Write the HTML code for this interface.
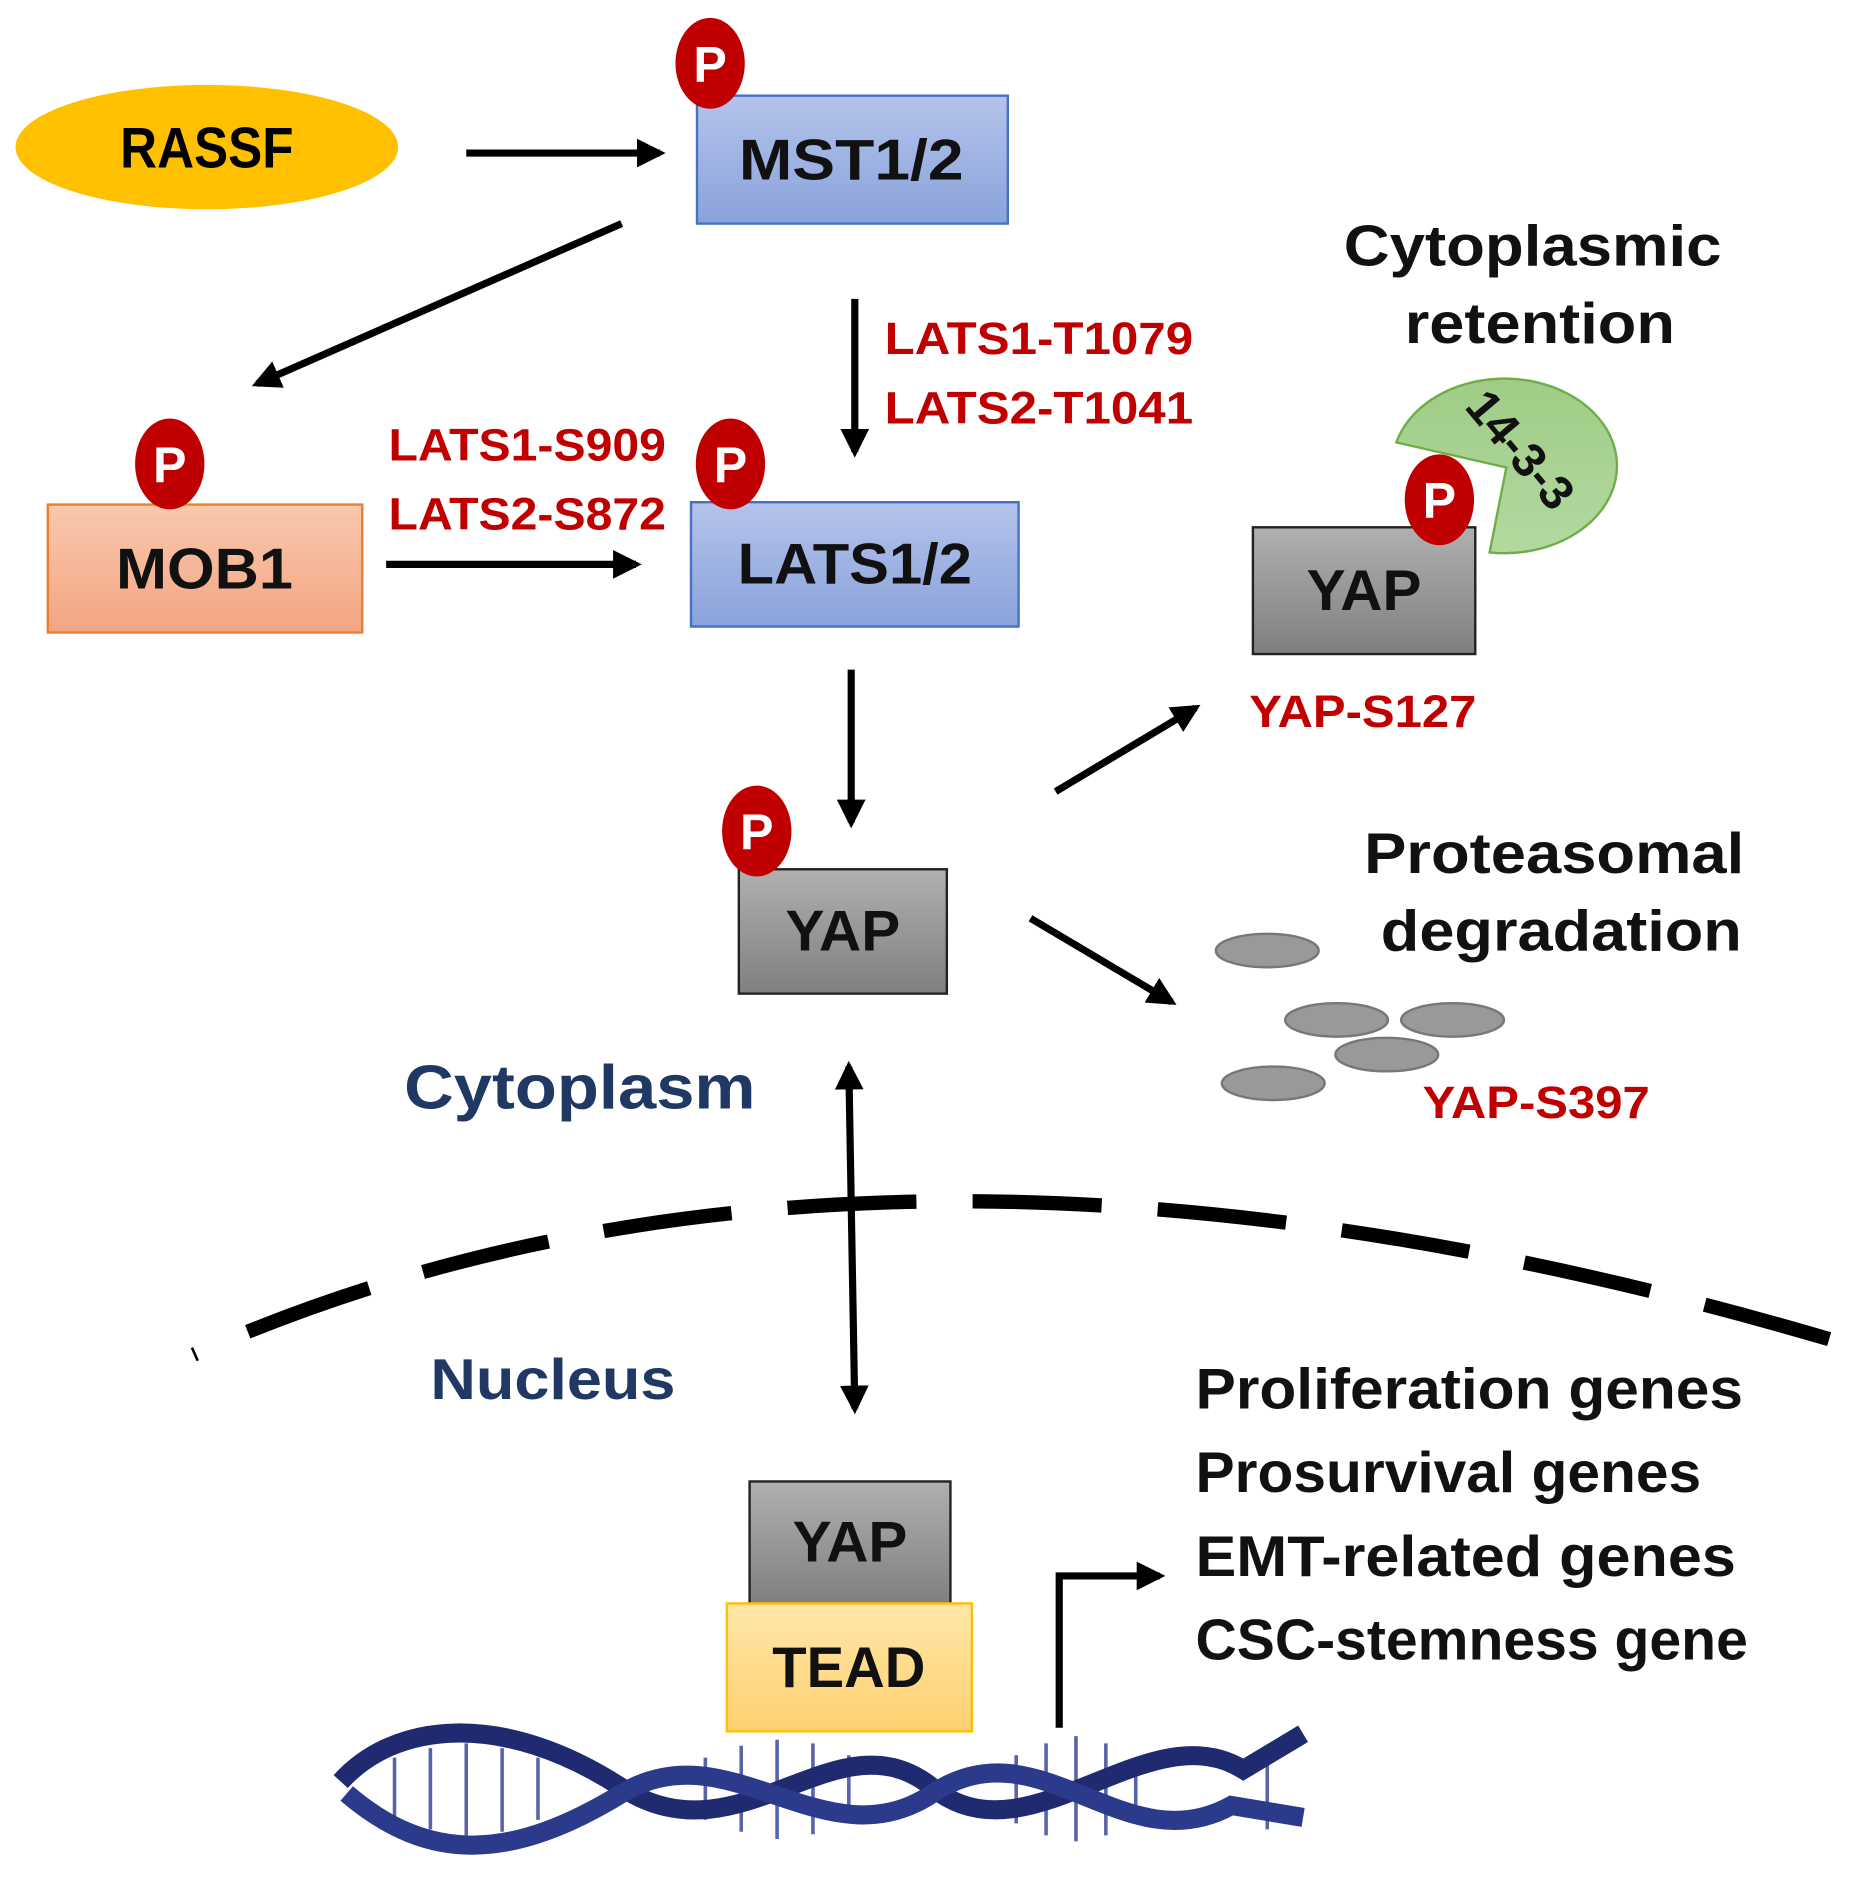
<!DOCTYPE html>
<html><head><meta charset="utf-8"><style>html,body{margin:0;padding:0;background:#fff}svg{display:block}</style></head>
<body>
<svg width="1865" height="1888" viewBox="0 0 1560 1579" preserveAspectRatio="none" xmlns="http://www.w3.org/2000/svg" font-family="Liberation Sans, sans-serif" font-weight="bold">
<defs>
<linearGradient id="bl" x1="0" y1="0" x2="0" y2="1"><stop offset="0" stop-color="#b4c3ea"/><stop offset="1" stop-color="#8aa3dc"/></linearGradient>
<linearGradient id="gr" x1="0" y1="0" x2="0" y2="1"><stop offset="0" stop-color="#b0b0b0"/><stop offset="1" stop-color="#7f7f7f"/></linearGradient>
<linearGradient id="sa" x1="0" y1="0" x2="0" y2="1"><stop offset="0" stop-color="#f9c8ad"/><stop offset="1" stop-color="#f3a583"/></linearGradient>
<linearGradient id="ye" x1="0" y1="0" x2="0" y2="1"><stop offset="0" stop-color="#ffe7a8"/><stop offset="1" stop-color="#ffd070"/></linearGradient>
<linearGradient id="gn" x1="0" y1="0" x2="0" y2="1"><stop offset="0" stop-color="#9fcc86"/><stop offset="1" stop-color="#b3d9a0"/></linearGradient>
<marker id="ah" viewBox="0 0 10 10" refX="8" refY="5" markerWidth="4" markerHeight="4" orient="auto-start-reverse"><path d="M0,0 L10,5 L0,10 z" fill="#000"/></marker>
</defs>
<g stroke="#000" stroke-width="6" marker-end="url(#ah)">
<line x1="390" y1="128" x2="552" y2="128"/>
<line x1="520" y1="187" x2="215" y2="321"/>
<line x1="715" y1="250" x2="715" y2="378"/>
<line x1="323" y1="472" x2="532" y2="472"/>
<line x1="712" y1="560" x2="712" y2="688"/>
<line x1="883" y1="662" x2="1000" y2="592"/>
<line x1="862" y1="768" x2="980" y2="838"/>
<line x1="710" y1="892" x2="715" y2="1178" marker-start="url(#ah)"/>
<polyline points="886,1445 886,1318 970,1318" fill="none"/>
</g>
<path d="M1530,1120 Q724,883 162,1133" fill="none" stroke="#000" stroke-width="12" stroke-dasharray="108,47"/>
<ellipse cx="173" cy="123" rx="160" ry="52" fill="#FFC000"/>
<text x="173" y="140" font-size="48" text-anchor="middle" textLength="145" lengthAdjust="spacingAndGlyphs">RASSF</text>
<rect x="583" y="80" width="260" height="107" fill="url(#bl)" stroke="#4472C4" stroke-width="2"/>
<text x="712" y="150" font-size="48" text-anchor="middle" textLength="188" lengthAdjust="spacingAndGlyphs" fill="#111">MST1/2</text>
<rect x="40" y="422" width="263" height="107" fill="url(#sa)" stroke="#ED7D31" stroke-width="2"/>
<text x="171" y="492" font-size="48" text-anchor="middle" textLength="148" lengthAdjust="spacingAndGlyphs" fill="#111">MOB1</text>
<rect x="578" y="420" width="274" height="104" fill="url(#bl)" stroke="#4472C4" stroke-width="2"/>
<text x="715" y="488" font-size="48" text-anchor="middle" textLength="196" lengthAdjust="spacingAndGlyphs" fill="#111">LATS1/2</text>
<rect x="618" y="727" width="174" height="104" fill="url(#gr)" stroke="#222" stroke-width="2"/>
<text x="705" y="795" font-size="48" text-anchor="middle" textLength="96" lengthAdjust="spacingAndGlyphs" fill="#111">YAP</text>
<path d="M1260,391 L1168,370 A94,73 0 1 1 1246,462 Z" fill="url(#gn)" stroke="#70AD47" stroke-width="2"/>
<text x="1272" y="390" font-size="40" text-anchor="middle" transform="rotate(50 1272 376)" fill="#111">14-3-3</text>
<rect x="1048" y="441" width="186" height="106" fill="url(#gr)" stroke="#222" stroke-width="2"/>
<text x="1141" y="510" font-size="48" text-anchor="middle" textLength="96" lengthAdjust="spacingAndGlyphs" fill="#111">YAP</text>
<rect x="627" y="1239" width="168" height="103" fill="url(#gr)" stroke="#222" stroke-width="2"/>
<text x="711" y="1306" font-size="48" text-anchor="middle" textLength="96" lengthAdjust="spacingAndGlyphs" fill="#111">YAP</text>
<rect x="608" y="1341" width="205" height="107" fill="url(#ye)" stroke="#FFC000" stroke-width="2"/>
<text x="710" y="1411" font-size="48" text-anchor="middle" textLength="128" lengthAdjust="spacingAndGlyphs" fill="#111">TEAD</text>
<g fill="#C00000">
<ellipse cx="594" cy="53" rx="29" ry="38"/><ellipse cx="142" cy="388" rx="29" ry="38"/>
<ellipse cx="611" cy="388" rx="29" ry="38"/><ellipse cx="633" cy="695" rx="29" ry="38"/>
<ellipse cx="1204" cy="418" rx="29" ry="38"/>
</g>
<g fill="#fff" font-size="42" text-anchor="middle">
<text x="594" y="68">P</text><text x="142" y="403">P</text><text x="611" y="403">P</text><text x="633" y="710">P</text><text x="1204" y="433">P</text>
</g>
<g fill="#C00000" font-size="38">
<text x="740" y="296" textLength="258" lengthAdjust="spacingAndGlyphs">LATS1-T1079</text>
<text x="740" y="354" textLength="258" lengthAdjust="spacingAndGlyphs">LATS2-T1041</text>
<text x="325" y="385" textLength="232" lengthAdjust="spacingAndGlyphs">LATS1-S909</text>
<text x="325" y="443" textLength="232" lengthAdjust="spacingAndGlyphs">LATS2-S872</text>
<text x="1045" y="608" textLength="190" lengthAdjust="spacingAndGlyphs">YAP-S127</text>
<text x="1190" y="935" textLength="190" lengthAdjust="spacingAndGlyphs">YAP-S397</text>
</g>
<g fill="#111" font-size="48" text-anchor="middle">
<text x="1282" y="222" textLength="316" lengthAdjust="spacingAndGlyphs">Cytoplasmic</text>
<text x="1288" y="287" textLength="226" lengthAdjust="spacingAndGlyphs">retention</text>
<text x="1300" y="730" textLength="318" lengthAdjust="spacingAndGlyphs">Proteasomal</text>
<text x="1306" y="795" textLength="302" lengthAdjust="spacingAndGlyphs">degradation</text>
</g>
<g fill="#999" stroke="#777" stroke-width="2">
<ellipse cx="1060" cy="795" rx="43" ry="14"/><ellipse cx="1118" cy="853" rx="43" ry="14"/>
<ellipse cx="1215" cy="853" rx="43" ry="14"/><ellipse cx="1160" cy="882" rx="43" ry="14"/>
<ellipse cx="1065" cy="906" rx="43" ry="14"/>
</g>
<text x="338" y="927" font-size="52" fill="#1F3864" textLength="294" lengthAdjust="spacingAndGlyphs">Cytoplasm</text>
<text x="360" y="1170" font-size="48" fill="#1F3864" textLength="205" lengthAdjust="spacingAndGlyphs">Nucleus</text>
<g fill="#111" font-size="48">
<text x="1000" y="1178" textLength="458" lengthAdjust="spacingAndGlyphs">Proliferation genes</text>
<text x="1000" y="1248" textLength="423" lengthAdjust="spacingAndGlyphs">Prosurvival genes</text>
<text x="1000" y="1318" textLength="452" lengthAdjust="spacingAndGlyphs">EMT-related genes</text>
<text x="1000" y="1388" textLength="462" lengthAdjust="spacingAndGlyphs">CSC-stemness gene</text>
</g>
<g stroke="#3a4a9a" stroke-width="3" opacity="0.85">
<line x1="330" y1="1470" x2="330" y2="1520"/><line x1="360" y1="1462" x2="360" y2="1530"/>
<line x1="390" y1="1458" x2="390" y2="1535"/><line x1="420" y1="1462" x2="420" y2="1532"/>
<line x1="450" y1="1470" x2="450" y2="1522"/><line x1="590" y1="1470" x2="590" y2="1522"/>
<line x1="620" y1="1460" x2="620" y2="1532"/><line x1="650" y1="1455" x2="650" y2="1538"/>
<line x1="680" y1="1458" x2="680" y2="1534"/><line x1="710" y1="1468" x2="710" y2="1525"/>
<line x1="850" y1="1468" x2="850" y2="1525"/><line x1="875" y1="1458" x2="875" y2="1535"/>
<line x1="900" y1="1452" x2="900" y2="1540"/><line x1="925" y1="1458" x2="925" y2="1535"/>
<line x1="950" y1="1470" x2="950" y2="1522"/><line x1="1060" y1="1460" x2="1060" y2="1530"/>
</g>
<path d="M285,1490 C330,1440 420,1430 520,1495 S700,1430 780,1495 S960,1430 1040,1480 L1090,1450" fill="none" stroke="#1f2a70" stroke-width="16"/>
<path d="M290,1500 C360,1560 430,1555 520,1500 S690,1560 780,1500 S940,1560 1030,1510 L1090,1520" fill="none" stroke="#2b3a8a" stroke-width="16"/>
</svg>
</body></html>
